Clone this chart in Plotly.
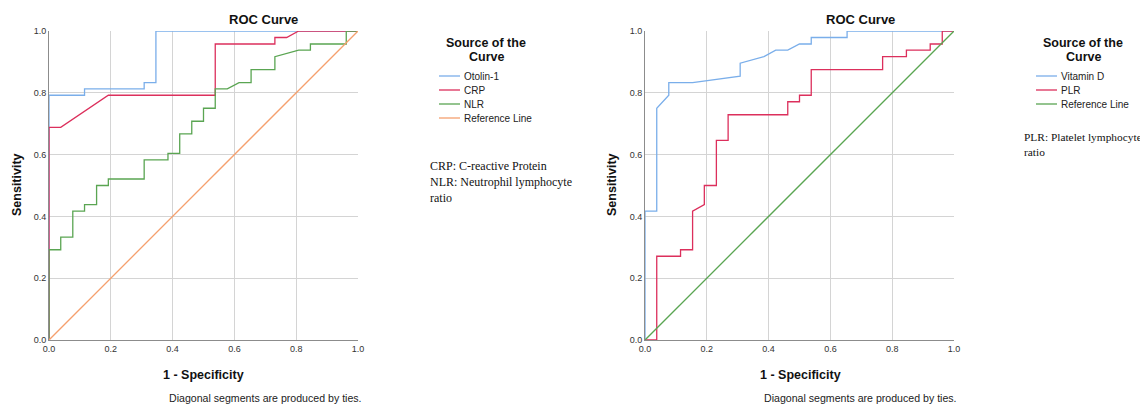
import plotly.graph_objects as go

# page body has an 8px margin: figure covers page pixels 8..1148 x 8..407
OFF = 8
W, H = 1148 - OFF, 407 - OFF

# ---- data (1 - specificity, sensitivity) ----
otolin_fpr = [0, 0, 0.115, 0.115, 0.308, 0.308, 0.346, 0.346, 1.0]
otolin_tpr = [0, 0.792, 0.792, 0.813, 0.813, 0.833, 0.833, 1.0, 1.0]

crp_fpr = [0, 0, 0.038, 0.192, 0.538, 0.538, 0.731, 0.731, 0.769, 0.808, 1.0]
crp_tpr = [0, 0.688, 0.688, 0.792, 0.792, 0.958, 0.958, 0.979, 0.979, 1.0, 1.0]

nlr_fpr = [0, 0, 0.038, 0.038, 0.077, 0.077, 0.115, 0.115, 0.154, 0.154, 0.192, 0.192,
           0.308, 0.308, 0.385, 0.385, 0.423, 0.423, 0.462, 0.462, 0.5, 0.5, 0.538, 0.538,
           0.577, 0.615, 0.654, 0.654, 0.731, 0.731, 0.808, 0.846, 0.846, 0.962, 0.962, 1.0]
nlr_tpr = [0, 0.292, 0.292, 0.333, 0.333, 0.417, 0.417, 0.438, 0.438, 0.5, 0.5, 0.521,
           0.521, 0.583, 0.583, 0.604, 0.604, 0.667, 0.667, 0.708, 0.708, 0.75, 0.75, 0.813,
           0.813, 0.833, 0.833, 0.875, 0.875, 0.917, 0.938, 0.938, 0.958, 0.958, 1.0, 1.0]

vitd_fpr = [0, 0, 0.038, 0.038, 0.077, 0.077, 0.154, 0.308, 0.308, 0.385, 0.423, 0.462,
            0.5, 0.538, 0.538, 0.654, 0.654, 1.0]
vitd_tpr = [0, 0.417, 0.417, 0.75, 0.792, 0.833, 0.833, 0.854, 0.896, 0.917, 0.938, 0.938,
            0.958, 0.958, 0.979, 0.979, 1.0, 1.0]

plr_fpr = [0, 0.038, 0.038, 0.115, 0.115, 0.154, 0.154, 0.192, 0.192, 0.231, 0.231, 0.269,
           0.269, 0.462, 0.462, 0.5, 0.5, 0.538, 0.538, 0.769, 0.769, 0.846, 0.846, 0.923,
           0.923, 0.962, 0.962, 1.0]
plr_tpr = [0, 0, 0.271, 0.271, 0.292, 0.292, 0.417, 0.438, 0.5, 0.5, 0.646, 0.646,
           0.729, 0.729, 0.771, 0.771, 0.792, 0.792, 0.875, 0.875, 0.917, 0.917, 0.938, 0.938,
           0.958, 0.958, 1.0, 1.0]

ref_line = [0, 1]
tick_vals = [0, 0.2, 0.4, 0.6, 0.8, 1.0]
tick_text = ["0.0", "0.2", "0.4", "0.6", "0.8", "1.0"]

left_names = ["Otolin-1", "CRP", "NLR", "Reference Line"]
right_names = ["Vitamin D", "PLR", "Reference Line"]

BLUE = "#7aaeea"
RED = "#dc2f5c"
GREEN = "#5aa552"
ORANGE = "#f5a06e"
left_colors = [BLUE, RED, GREEN, ORANGE]
right_colors = [BLUE, RED, GREEN]

SANS = "Arial, Liberation Sans, sans-serif"
SERIF = "Times New Roman, Liberation Serif, serif"

fig = go.Figure()

def add(x, y, name, color, xa, ya):
    fig.add_trace(go.Scatter(x=x, y=y, mode="lines", name=name,
                             line=dict(color=color, width=1.3),
                             xaxis=xa, yaxis=ya, showlegend=False, hoverinfo="skip"))

add(otolin_fpr, otolin_tpr, left_names[0], left_colors[0], "x", "y")
add(crp_fpr, crp_tpr, left_names[1], left_colors[1], "x", "y")
add(nlr_fpr, nlr_tpr, left_names[2], left_colors[2], "x", "y")
add(ref_line, ref_line, left_names[3], left_colors[3], "x", "y")

add(vitd_fpr, vitd_tpr, right_names[0], right_colors[0], "x2", "y2")
add(plr_fpr, plr_tpr, right_names[1], right_colors[1], "x2", "y2")
add(ref_line, ref_line, right_names[2], right_colors[2], "x2", "y2")

def px(v):
    return (v - OFF) / W

def py(v):
    return 1 - (v - OFF) / H

ydom = [py(340), py(31)]
axis_common = dict(range=[0, 1], tickvals=tick_vals, ticktext=tick_text,
                   showgrid=True, gridcolor="#d4d4d4", gridwidth=1,
                   zeroline=False, showline=True, linecolor="#8c8c8c", linewidth=1,
                   ticks="", tickfont=dict(family=SANS, size=9, color="#333333"),
                   fixedrange=True, automargin=False)

fig.update_layout(
    width=W, height=H,
    margin=dict(l=0, r=0, t=0, b=0, autoexpand=False),
    paper_bgcolor="white", plot_bgcolor="white",
    showlegend=False,
    xaxis=dict(domain=[px(49), px(358)], anchor="y", **axis_common),
    yaxis=dict(domain=ydom, anchor="x", **axis_common),
    xaxis2=dict(domain=[px(645), px(954)], anchor="y2", **axis_common),
    yaxis2=dict(domain=ydom, anchor="x2", **axis_common),
)

ann = []
shapes = []
def text(x, y, t, size, family=SANS, bold=False, xanchor="center", angle=0, color="#111"):
    ann.append(dict(x=px(x), y=py(y), xref="paper", yref="paper", text=(f"<b>{t}</b>" if bold else t),
                    showarrow=False, xanchor=xanchor, yanchor="middle", textangle=angle,
                    font=dict(family=family, size=size, color=color)))

for cx in (263, 860):
    text(cx, 19, "ROC Curve", 13, bold=True)
for cx, lx in ((203, 17), (800, 612)):
    text(cx, 375, "1 - Specificity", 12.5, bold=True)
    text(lx, 185, "Sensitivity", 12.5, bold=True, angle=-90)
text(167, 398, "Diagonal segments are produced by ties.", 10.6, xanchor="left", color="#222")
text(762, 398, "Diagonal segments are produced by ties.", 10.6, xanchor="left", color="#222")

# legends (manual, compact like the reference)
def legend(x0, title_cx, names, colors):
    text(title_cx, 43, "Source of the", 12.5, bold=True)
    text(title_cx, 57, "Curve", 12.5, bold=True)
    for i, (n, c) in enumerate(zip(names, colors)):
        yy = 76 + 14 * i
        shapes.append(dict(type="line", xref="paper", yref="paper",
                           x0=px(x0), x1=px(x0 + 21), y0=py(yy), y1=py(yy),
                           line=dict(color=c, width=1.3)))
        text(x0 + 23, yy, n, 10, xanchor="left", color="#222")

legend(439, 486, left_names, left_colors)
legend(1036, 1083, right_names, right_colors)

text(428, 166, "CRP: C-reactive Protein", 12, family=SERIF, xanchor="left", color="#111")
text(428, 182, "NLR: Neutrophil lymphocyte", 12, family=SERIF, xanchor="left", color="#111")
text(428, 198, "ratio", 12, family=SERIF, xanchor="left", color="#111")
text(1022, 137, "PLR: Platelet lymphocyte", 11.4, family=SERIF, xanchor="left", color="#111")
text(1022, 152, "ratio", 11.4, family=SERIF, xanchor="left", color="#111")

fig.update_layout(annotations=ann, shapes=shapes)
fig.write_html("out.html")
